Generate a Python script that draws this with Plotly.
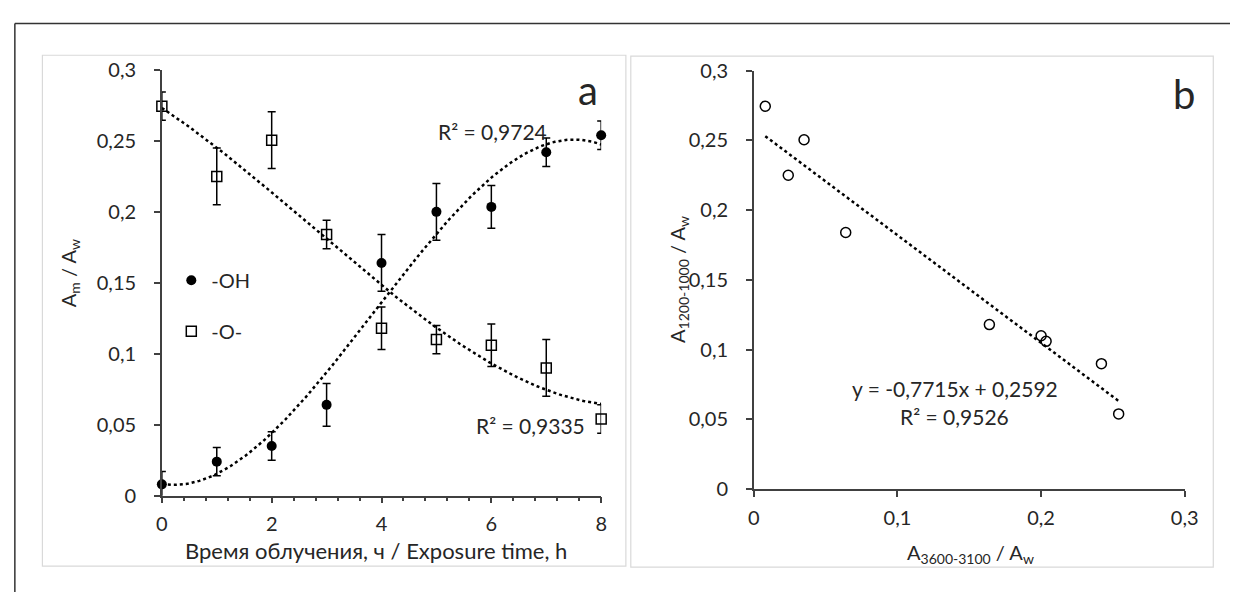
import numpy as np
import plotly.graph_objects as go

# ---------------- data ----------------
time_h = [0, 1, 2, 3, 4, 5, 6, 7, 8]
oh_vals = [0.008, 0.024, 0.035, 0.064, 0.164, 0.200, 0.2035, 0.242, 0.254]
oh_err = [0.009, 0.010, 0.010, 0.015, 0.020, 0.020, 0.015, 0.010, 0.010]
o_vals = [0.2745, 0.225, 0.2505, 0.184, 0.118, 0.110, 0.106, 0.090, 0.054]
o_err = [0.010, 0.020, 0.020, 0.010, 0.015, 0.010, 0.015, 0.020, 0.010]

y_tickvals = [0, 0.05, 0.1, 0.15, 0.2, 0.25, 0.3]
y_ticktext = ["0", "0,05", "0,1", "0,15", "0,2", "0,25", "0,3"]
xa_tickvals = [0, 2, 4, 6, 8]
xa_ticktext = ["0", "2", "4", "6", "8"]
xb_tickvals = [0, 0.1, 0.2, 0.3]
xb_ticktext = ["0", "0,1", "0,2", "0,3"]

lin_slope, lin_icpt = -0.7715, 0.2592
poly_order = 3

W, H = 1244, 603
FONT = "Lato, Roboto, sans-serif"
TXT = "#262626"
FS = 20


def px(x):
    return x / W


def py(y):
    return 1 - y / H


# trend curves (polynomial fits, as the spreadsheet trendlines)
xs = np.linspace(0, 8, 200)
oh_fit = np.polyval(np.polyfit(time_h, oh_vals, poly_order), xs)
o_fit = np.polyval(np.polyfit(time_h, o_vals, poly_order), xs)
xb_line = np.linspace(min(oh_vals), max(oh_vals), 50)
yb_line = lin_slope * xb_line + lin_icpt

fig = go.Figure()

dot = dict(color="black", width=2.5, dash="dot")
fig.add_trace(go.Scatter(x=xs, y=oh_fit, mode="lines", showlegend=False, line=dot,
                         xaxis="x", yaxis="y", hoverinfo="skip"))
fig.add_trace(go.Scatter(x=xs, y=o_fit, mode="lines", showlegend=False, line=dot,
                         xaxis="x", yaxis="y", hoverinfo="skip"))

fig.add_trace(go.Scatter(x=time_h, y=oh_vals, mode="markers", name="-OH",
                         legendgroup="oh",
                         marker=dict(symbol="circle", size=10, color="black"),
                         error_y=dict(type="data", array=oh_err, color="black",
                                      thickness=1.5, width=4),
                         cliponaxis=False, xaxis="x", yaxis="y"))
fig.add_trace(go.Scatter(x=time_h, y=o_vals, mode="markers", name="-O-",
                         legendgroup="o",
                         marker=dict(symbol="square-open", size=10, color="black",
                                     line=dict(width=1.5, color="black")),
                         error_y=dict(type="data", array=o_err, color="black",
                                      thickness=1.5, width=4),
                         cliponaxis=False, xaxis="x", yaxis="y"))

fig.add_trace(go.Scatter(x=xb_line, y=yb_line, mode="lines", showlegend=False, line=dot,
                         xaxis="x2", yaxis="y2", hoverinfo="skip"))
fig.add_trace(go.Scatter(x=oh_vals, y=o_vals, mode="markers", showlegend=False,
                         marker=dict(symbol="circle-open", size=10, color="black",
                                     line=dict(width=1.5, color="black")),
                         cliponaxis=False, xaxis="x2", yaxis="y2"))

axis_common = dict(showgrid=False, zeroline=False, showline=True,
                   linecolor="#404040", linewidth=1.5, ticks="outside",
                   tickcolor="#404040", tickwidth=1.5, ticklen=6,
                   tickfont=dict(family=FONT, size=FS, color=TXT))

fig.update_layout(
    margin=dict(l=0, r=0, t=0, b=0),
    paper_bgcolor="white", plot_bgcolor="rgba(0,0,0,0)",
    font=dict(family=FONT, color=TXT),
    separators=", ",
    xaxis=dict(axis_common, domain=[px(158.4), px(604.9)], range=[0, 8],
               tickvals=xa_tickvals, ticktext=xa_ticktext, anchor="y",
               ticklabelstandoff=4,
               minor=dict(dtick=0.4, ticks="outside", ticklen=4,
                          tickcolor="#404040", tickwidth=1.5)),
    yaxis=dict(axis_common, domain=[py(502.7), py(59.3)], range=[0, 0.3],
               tickvals=y_tickvals, ticktext=y_ticktext, anchor="x",
               ticklabelstandoff=14),
    xaxis2=dict(axis_common, domain=[px(760), px(1198)], range=[0, 0.3],
                tickvals=xb_tickvals, ticktext=xb_ticktext, anchor="y2",
                ticklabelstandoff=4),
    yaxis2=dict(axis_common, domain=[py(496), py(60)], range=[0, 0.3],
                tickvals=y_tickvals, ticktext=y_ticktext, anchor="x2",
                ticklabelstandoff=14),
    legend=dict(x=px(168), y=py(258), xanchor="left", yanchor="top",
                bgcolor="rgba(0,0,0,0)", font=dict(family=FONT, size=FS, color=TXT),
                tracegroupgap=22, itemwidth=30, traceorder="grouped"),
)

shapes = [
    dict(type="line", xref="paper", yref="paper", x0=px(9), x1=1.0, y0=py(11), y1=py(11),
         line=dict(color="#333333", width=1.5)),
    dict(type="line", xref="paper", yref="paper", x0=px(9), x1=px(9), y0=py(11), y1=0,
         line=dict(color="#333333", width=1.5)),
    dict(type="rect", xref="paper", yref="paper", x0=px(37), x1=px(630), y0=py(576), y1=py(44),
         line=dict(color="#d9d9d9", width=1.2), layer="below"),
    dict(type="rect", xref="paper", yref="paper", x0=px(635), x1=px(1227), y0=py(577), y1=py(45),
         line=dict(color="#d9d9d9", width=1.2), layer="below"),
]
fig.update_layout(shapes=shapes)

ann = [
    dict(text="a", x=px(592), y=py(80), font=dict(size=40)),
    dict(text="b", x=px(1197), y=py(84), font=dict(size=40)),
    dict(text="R² = 0,9724", x=px(494), y=py(123), font=dict(size=21)),
    dict(text="R² = 0,9335", x=px(533), y=py(430), font=dict(size=21)),
    dict(text="y = -0,7715x + 0,2592", x=px(964), y=py(391), font=dict(size=21)),
    dict(text="R² = 0,9526", x=px(964), y=py(420), font=dict(size=21)),
    dict(text="Время облучения, ч / Exposure time, h", x=px(376), y=py(560), font=dict(size=22)),
    dict(text="A<sub>3600-3100</sub> / A<sub>w</sub>", x=px(980), y=py(563), font=dict(size=FS)),
    dict(text="A<sub>m</sub> / A<sub>w</sub>", x=px(64), y=py(271), textangle=-90, font=dict(size=FS)),
    dict(text="A<sub>1200-1000</sub> / A<sub>w</sub>", x=px(684), y=py(278), textangle=-90, font=dict(size=FS)),
]
for a in ann:
    a.update(xref="paper", yref="paper", showarrow=False, xanchor="center", yanchor="middle")
    a["font"] = dict(a["font"], family=FONT, color=TXT)
fig.update_layout(annotations=ann)

post = (
    "var gd=document.getElementById('{plot_id}');"
    "document.documentElement.style.height='100%';"
    "document.documentElement.style.overflow='hidden';"
    "document.body.style.height='100%';"
    "document.body.style.margin='0';"
    "document.body.style.overflow='hidden';"
    "if(gd.parentElement){gd.parentElement.style.height='100%';gd.parentElement.style.width='100%';}"
    "gd.style.height='100%';gd.style.width='100%';"
    "Plotly.Plots.resize(gd);"
)
fig.write_html("out.html", config={"displayModeBar": False}, post_script=post)
